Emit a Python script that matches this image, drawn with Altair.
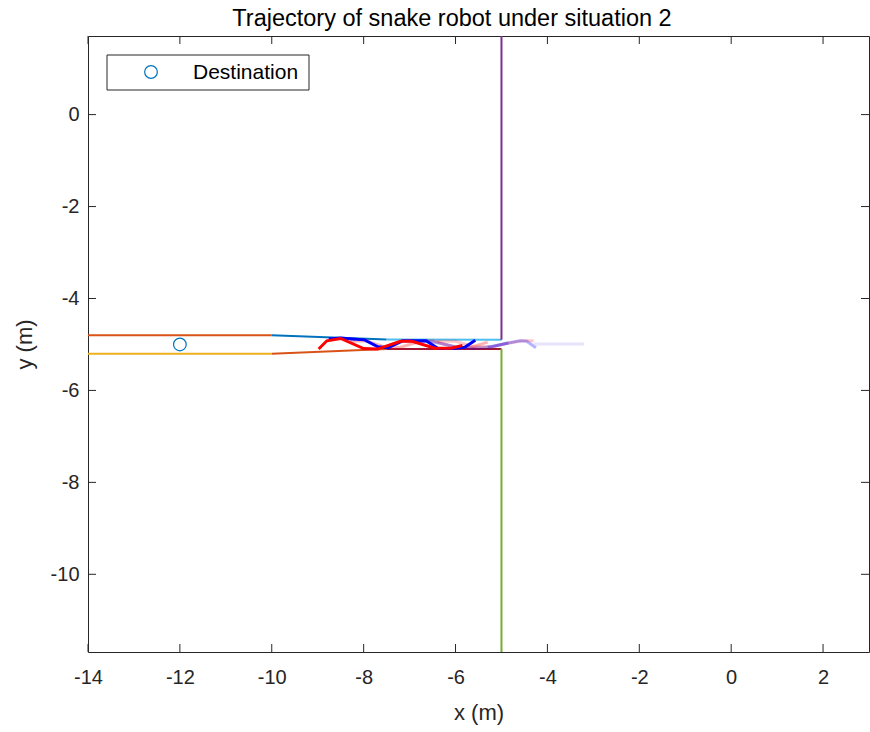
import altair as alt
import pandas as pd

# ---- data ----
series_names = ["wall_up_a", "wall_up_b", "wall_up_c", "wall_vert_up",
                "wall_lo_a", "wall_lo_b", "wall_lo_c", "wall_vert_lo",
                "snake_red_fade1", "snake_blue_fade1", "snake_red_fade2", "snake_blue_fade2", "snake_tail_fade",
                "snake_blue", "snake_red"]
series_colors = ["#D95319", "#0072BD", "#4DBEEE", "#7E2F8E",
                 "#EDB120", "#D95319", "#A2142F", "#77AC30",
                 "#FF0000", "#0000FF", "#FF0000", "#0000FF", "#D8D0F8",
                 "#0000FF", "#FF0000"]
series_opacity = [1, 1, 1, 1, 1, 1, 1, 1, 0.3, 0.3, 0.22, 0.3, 0.6, 1, 1]
series_width = [2, 2, 2, 2, 2, 2, 2, 2, 3, 3, 3, 3, 3, 3, 3]

wall_up_a_x = [-14, -10]
wall_up_a_y = [-4.8, -4.8]
wall_up_b_x = [-10, -7.5]
wall_up_b_y = [-4.8, -4.89]
wall_up_c_x = [-7.5, -5]
wall_up_c_y = [-4.89, -4.9]
wall_vert_up_x = [-5, -5]
wall_vert_up_y = [-4.9, 1.71]
wall_lo_a_x = [-14, -10]
wall_lo_a_y = [-5.2, -5.2]
wall_lo_b_x = [-10, -7.5]
wall_lo_b_y = [-5.2, -5.1]
wall_lo_c_x = [-7.5, -5]
wall_lo_c_y = [-5.1, -5.1]
wall_vert_lo_x = [-5, -5]
wall_vert_lo_y = [-5.1, -11.69]

snake_red_x = [-8.98, -8.8, -8.5, -8.0, -7.7, -7.2, -6.95, -6.45, -6.1, -5.85]
snake_red_y = [-5.10, -4.92, -4.87, -5.09, -5.10, -4.93, -4.93, -5.08, -5.08, -5.02]
snake_blue_x = [-8.76, -8.5, -8.25, -7.98, -7.69, -7.47, -7.15, -6.64, -6.38, -6.09, -5.8, -5.57]
snake_blue_y = [-4.88, -4.86, -4.88, -4.90, -5.05, -5.07, -4.92, -4.92, -5.09, -5.09, -5.06, -4.91]
snake_red_fade1_x = [-8.3, -7.95, -7.5, -7.2, -6.8, -6.5, -6.0, -5.7, -5.3]
snake_red_fade1_y = [-4.93, -4.92, -5.07, -5.06, -4.94, -4.92, -5.06, -5.07, -4.95]
snake_blue_fade1_x = [-7.0, -6.5, -6.0, -5.6, -5.2, -4.85]
snake_blue_fade1_y = [-4.93, -4.94, -5.05, -5.08, -5.05, -4.97]
snake_red_fade2_x = [-6.4, -6.0, -5.6, -5.2, -4.9, -4.55, -4.3]
snake_red_fade2_y = [-4.93, -4.93, -5.05, -5.05, -4.98, -4.92, -4.92]
snake_blue_fade2_x = [-5.3, -4.85, -4.6, -4.45, -4.25]
snake_blue_fade2_y = [-5.06, -4.97, -4.92, -4.93, -5.07]
snake_tail_fade_x = [-4.3, -3.2]
snake_tail_fade_y = [-4.99, -4.99]

dest_x = [-12]
dest_y = [-5]

x_ticks = [-14, -12, -10, -8, -6, -4, -2, 0, 2]
y_ticks = [-10, -8, -6, -4, -2, 0]

X_MIN, X_MAX = -14, 3
Y_MIN, Y_MAX = -11.69, 1.71

xy = {
    "wall_up_a": (wall_up_a_x, wall_up_a_y), "wall_up_b": (wall_up_b_x, wall_up_b_y),
    "wall_up_c": (wall_up_c_x, wall_up_c_y), "wall_vert_up": (wall_vert_up_x, wall_vert_up_y),
    "wall_lo_a": (wall_lo_a_x, wall_lo_a_y), "wall_lo_b": (wall_lo_b_x, wall_lo_b_y),
    "wall_lo_c": (wall_lo_c_x, wall_lo_c_y), "wall_vert_lo": (wall_vert_lo_x, wall_vert_lo_y),
    "snake_red": (snake_red_x, snake_red_y), "snake_blue": (snake_blue_x, snake_blue_y),
    "snake_red_fade1": (snake_red_fade1_x, snake_red_fade1_y),
    "snake_blue_fade1": (snake_blue_fade1_x, snake_blue_fade1_y),
    "snake_red_fade2": (snake_red_fade2_x, snake_red_fade2_y),
    "snake_blue_fade2": (snake_blue_fade2_x, snake_blue_fade2_y),
    "snake_tail_fade": (snake_tail_fade_x, snake_tail_fade_y),
}

rows = []
for k, name in enumerate(series_names):
    xs, ys = xy[name]
    for i, (a, b) in enumerate(zip(xs, ys)):
        rows.append({"series": name, "order": k * 100 + i, "x": a, "y": b,
                     "op": series_opacity[k], "sw": series_width[k]})
lines_df = pd.DataFrame(rows)

W, H = 781, 616
FRAME = "#262626"
FONT = "Liberation Sans"

xscale = alt.Scale(domain=[X_MIN, X_MAX], nice=False, zero=False)
yscale = alt.Scale(domain=[Y_MIN, Y_MAX], nice=False, zero=False)

lines = alt.Chart(lines_df).mark_line(clip=True).encode(
    x=alt.X("x:Q", scale=xscale,
            axis=alt.Axis(values=x_ticks, title="x (m)", grid=False, domain=False, ticks=False,
                          labelExpr="datum.value + ''", labelFlush=False,
                          labelPadding=15, labelFontSize=20, labelColor=FRAME, labelFont=FONT,
                          titleFontSize=22, titleFont=FONT, titleFontWeight="normal", titleColor=FRAME,
                          titleY=60, titleBaseline="middle")),
    y=alt.Y("y:Q", scale=yscale,
            axis=alt.Axis(values=y_ticks, title="y (m)", grid=False, domain=False, ticks=False,
                          labelExpr="datum.value + ''", labelFlush=False,
                          labelPadding=9, labelFontSize=20, labelColor=FRAME, labelFont=FONT,
                          titleFontSize=22, titleFont=FONT, titleFontWeight="normal", titleColor=FRAME,
                          titleX=-64, titleBaseline="middle", titleAlign="center")),
    color=alt.Color("series:N", scale=alt.Scale(domain=series_names, range=series_colors), legend=None),
    opacity=alt.Opacity("op:Q", scale=None),
    strokeWidth=alt.StrokeWidth("sw:Q", scale=None),
    detail="series:N",
    order="order:Q",
)

dest_df = pd.DataFrame({"x": dest_x, "y": dest_y})
dest = alt.Chart(dest_df).mark_point(shape="circle", filled=False, size=160, strokeWidth=1.2,
                                     color="#0072BD", opacity=1).encode(
    x=alt.X("x:Q", scale=xscale), y=alt.Y("y:Q", scale=yscale))

TL = 8
xt_df = pd.DataFrame({"x": x_ticks})
yt_df = pd.DataFrame({"y": y_ticks})
xt_bot = alt.Chart(xt_df).mark_rule(color=FRAME, strokeWidth=1).encode(
    x=alt.X("x:Q", scale=xscale), y=alt.value(H), y2=alt.value(H - TL))
xt_top = alt.Chart(xt_df).mark_rule(color=FRAME, strokeWidth=1).encode(
    x=alt.X("x:Q", scale=xscale), y=alt.value(0), y2=alt.value(TL))
yt_left = alt.Chart(yt_df).mark_rule(color=FRAME, strokeWidth=1).encode(
    y=alt.Y("y:Q", scale=yscale), x=alt.value(0), x2=alt.value(TL))
yt_right = alt.Chart(yt_df).mark_rule(color=FRAME, strokeWidth=1).encode(
    y=alt.Y("y:Q", scale=yscale), x=alt.value(W), x2=alt.value(W - TL))

one = pd.DataFrame({"a": [0]})
L0, T0 = 88, 36
leg_box = alt.Chart(one).mark_rect(fill="white", stroke=FRAME, strokeWidth=1).encode(
    x=alt.value(107 - L0), x2=alt.value(309 - L0), y=alt.value(55 - T0), y2=alt.value(90 - T0))
leg_sym = alt.Chart(one).mark_point(shape="circle", filled=False, size=160, strokeWidth=1.2,
                                    color="#0072BD", opacity=1).encode(
    x=alt.value(151 - L0), y=alt.value(72 - T0))
leg_txt = alt.Chart(one).mark_text(align="left", baseline="middle", fontSize=21, font=FONT,
                                   color="black").encode(
    x=alt.value(193 - L0), y=alt.value(73 - T0), text=alt.value("Destination"))

title_txt = alt.Chart(one).mark_text(align="center", baseline="middle", fontSize=23.5, font=FONT,
                                     color="black").encode(
    x=alt.value(452 - L0), y=alt.value(19 - T0),
    text=alt.value("Trajectory of snake robot under situation 2"))

chart = alt.layer(
    lines, dest, xt_bot, xt_top, yt_left, yt_right, leg_box, leg_sym, leg_txt, title_txt
).properties(
    width=W, height=H,
    autosize=alt.AutoSizeParams(type="none"),
    padding={"left": L0, "top": T0, "right": 870 - L0 - W, "bottom": 732 - T0 - H},
    background="white",
).configure_view(stroke=FRAME, strokeWidth=1)

chart.save("out.html", embed_options={"renderer": "svg", "actions": False})
